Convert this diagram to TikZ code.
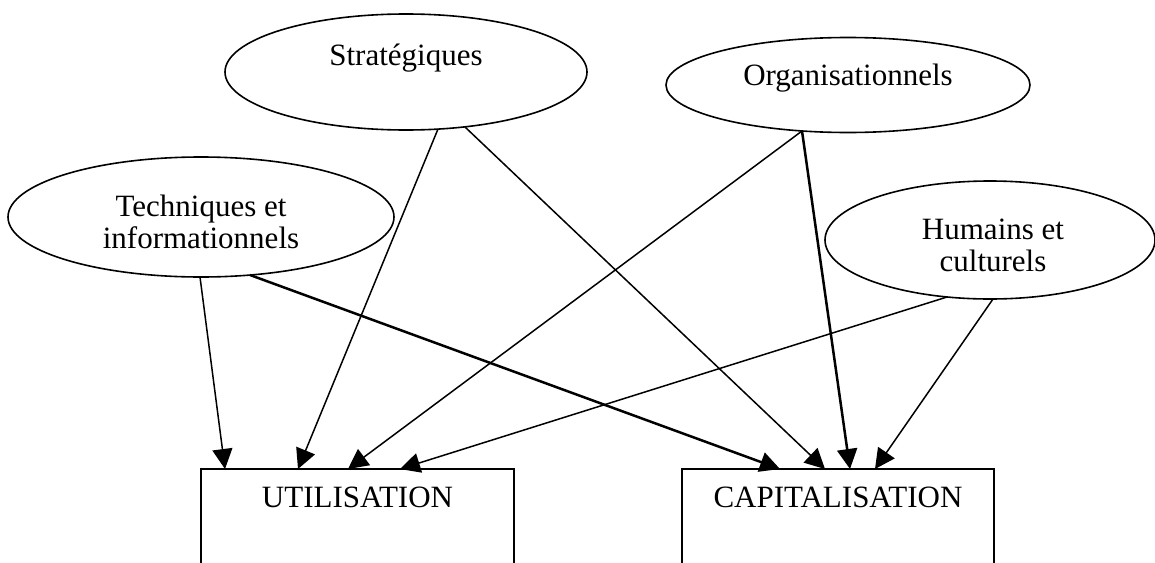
\documentclass[tikz,border=0pt]{standalone}
\usepackage{fontspec}
\setmainfont{Liberation Serif}
\usetikzlibrary{shapes.geometric,arrows.meta,calc}

\begin{document}
\begin{tikzpicture}[
  x=1pt, y=-1pt,
  every node/.style={inner sep=0pt, outer sep=0pt},
  oval/.style={draw, line width=1.6pt, ellipse},
  target/.style={draw, line width=1.8pt, rectangle, anchor=north west},
  lbl/.style={font=\fontsize{31}{32}\selectfont, align=center},
  link/.style={line width=1.5pt, -{Triangle[length=20pt, width=20pt]}},
  heavy/.style={link, line width=2.5pt},
]
\useasboundingbox (0,0) rectangle (1155,562);
\clip (0,0) rectangle (1155,562);

% factor ellipses
\node[oval, minimum width=386pt, minimum height=120pt] (tech) at (201,217) {};
\node[oval, minimum width=362pt, minimum height=116pt] (strat) at (406,72) {};
\node[oval, minimum width=364pt, minimum height=95pt] (org) at (848,85) {};
\node[oval, minimum width=330pt, minimum height=118pt] (hum) at (990,240) {};

\node[lbl] (techT) at (201,222) {Techniques et\\informationnels};
\node[lbl] (stratT) at (406,58) {Strat\'egiques};
\node[lbl] (orgT) at (848,78) {Organisationnels};
\node[lbl] (humT) at (993,245) {Humains et\\culturels};

% outcome boxes (open at the bottom edge)
\node[target, minimum width=313pt, minimum height=130pt] (util) at (201,469) {};
\node[target, minimum width=312pt, minimum height=130pt] (capi) at (682,469) {};

\node[lbl] (utilT) at (357.5,497.5) {UTILISATION};
\node[lbl] (capiT) at (838,497.5) {CAPITALISATION};

% influences
\draw[link]  ($(tech.center)+(-1,60)$)  -- ($(util.north west)+(24,0)$);
\draw[heavy] ($(tech.center)+(49,58)$)  -- ($(capi.north west)+(98,0)$);
\draw[link]  ($(strat.center)+(32,57)$) -- ($(util.north west)+(97,0)$);
\draw[link]  ($(strat.center)+(59,55)$) -- ($(capi.north west)+(143,0)$);
\draw[link]  ($(org.center)+(-46,46)$)  -- ($(util.north west)+(147,0)$);
\draw[heavy] ($(org.center)+(-46,46)$)  -- ($(capi.north west)+(168,0)$);
\draw[link]  ($(hum.center)+(-43,57)$)  -- ($(util.north west)+(199,0)$);
\draw[link]  ($(hum.center)+(3,59)$)    -- ($(capi.north west)+(193,0)$);
\end{tikzpicture}
\end{document}
